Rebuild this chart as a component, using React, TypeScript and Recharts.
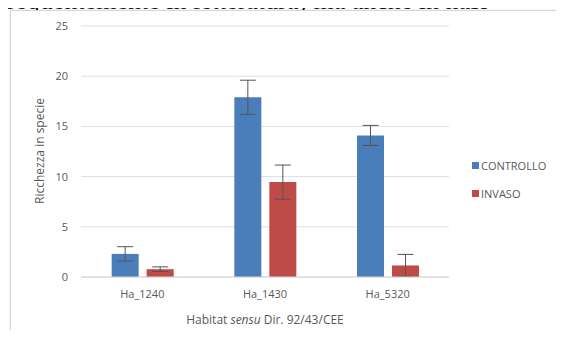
import React from "react";
import {
  BarChart,
  Bar,
  XAxis,
  YAxis,
  CartesianGrid,
  ErrorBar,
  Legend,
} from "recharts";

const habitats = ["Ha_1240", "Ha_1430", "Ha_5320"];
const controllo = [2.3, 17.9, 14.1];
const controlloErr = [0.72, 1.7, 1.0];
const invaso = [0.78, 9.45, 1.15];
const invasoErr = [0.23, 1.7, 1.1];
const yTicks = [0, 5, 10, 15, 20, 25];

const data = habitats.map((h, i) => ({
  habitat: h,
  controllo: controllo[i],
  controlloErr: controlloErr[i],
  invaso: invaso[i],
  invasoErr: invasoErr[i],
}));

const BLUE = "#4a7ebb";
const RED = "#be4b48";
const TEXT = "#595959";
const FONT = "'Open Sans', 'Noto Sans', sans-serif";

const legendItems = [
  { label: "CONTROLLO", color: BLUE },
  { label: "INVASO", color: RED },
];

function LegendBox() {
  return (
    <div style={{ fontFamily: FONT, fontSize: 11, color: TEXT }}>
      {legendItems.map((it) => (
        <div
          key={it.label}
          style={{ display: "flex", alignItems: "center", height: 28 }}
        >
          <span
            style={{
              width: 7,
              height: 7,
              background: it.color,
              marginRight: 2,
              display: "inline-block",
            }}
          />
          <span>{it.label}</span>
        </div>
      ))}
    </div>
  );
}

export default function App() {
  return (
    <div
      style={{
        position: "relative",
        width: 564,
        height: 338,
        margin: -8,
        overflow: "hidden",
        background: "#fff",
      }}
    >
      <div
        style={{
          position: "absolute",
          left: 10,
          top: 10,
          width: 580,
          height: 360,
          border: "1px solid #d6d6d6",
          boxShadow: "0 0 2px #e6e6e6",
          background: "#fff",
        }}
      />
      {/* cut-off line of the scanned page above the chart */}
      <svg
        width={564}
        height={10}
        style={{ position: "absolute", left: 0, top: 0, zIndex: 5 }}
      >
        <text
          x={-2}
          y={9}
          fontFamily="'Liberation Serif', serif"
          fontSize={26}
          fill="#111"
        >
          frequentemente in letteratura) ma anche in nasi
        </text>
      </svg>
      <div style={{ position: "absolute", left: 0, top: 0 }}>
        <BarChart
          width={564}
          height={338}
          data={data}
          margin={{ top: 26, right: 25, bottom: 31, left: 0 }}
          barCategoryGap="25%"
          barGap={8}
        >
          <CartesianGrid vertical={false} stroke="#dedede" />
          <XAxis
            dataKey="habitat"
            axisLine={{ stroke: "#d6d6d6" }}
            tickLine={false}
            tickSize={0}
            tickMargin={13}
            tick={{ fontSize: 11, fill: TEXT, fontFamily: FONT }}
            label={{
              content: () => (
                <text
                  x={265}
                  y={324}
                  textAnchor="middle"
                  fontSize={12}
                  fill={TEXT}
                  fontFamily={FONT}
                >
                  Habitat <tspan fontStyle="italic">sensu</tspan> Dir. 92/43/CEE
                </text>
              ),
            }}
          />
          <YAxis
            width={81}
            domain={[0, 25]}
            ticks={yTicks}
            axisLine={false}
            tickLine={false}
            tickSize={0}
            tickMargin={13}
            tick={{ fontSize: 11, fill: TEXT, fontFamily: FONT }}
            label={{
              content: () => (
                <text
                  x={44}
                  y={151}
                  transform="rotate(-90 44 151)"
                  textAnchor="middle"
                  fontSize={12}
                  fill={TEXT}
                  fontFamily={FONT}
                >
                  Ricchezza in specie
                </text>
              ),
            }}
          />
          <Legend
            layout="vertical"
            align="right"
            verticalAlign="top"
            wrapperStyle={{ left: 472, top: 151, width: 90 }}
            content={() => <LegendBox />}
          />
          <Bar dataKey="controllo" fill={BLUE} isAnimationActive={false}>
            <ErrorBar
              dataKey="controlloErr"
              width={8}
              stroke="#555"
              strokeWidth={1}
              direction="y"
            />
          </Bar>
          <Bar dataKey="invaso" fill={RED} isAnimationActive={false}>
            <ErrorBar
              dataKey="invasoErr"
              width={8}
              stroke="#555"
              strokeWidth={1}
              direction="y"
            />
          </Bar>
        </BarChart>
      </div>
    </div>
  );
}
